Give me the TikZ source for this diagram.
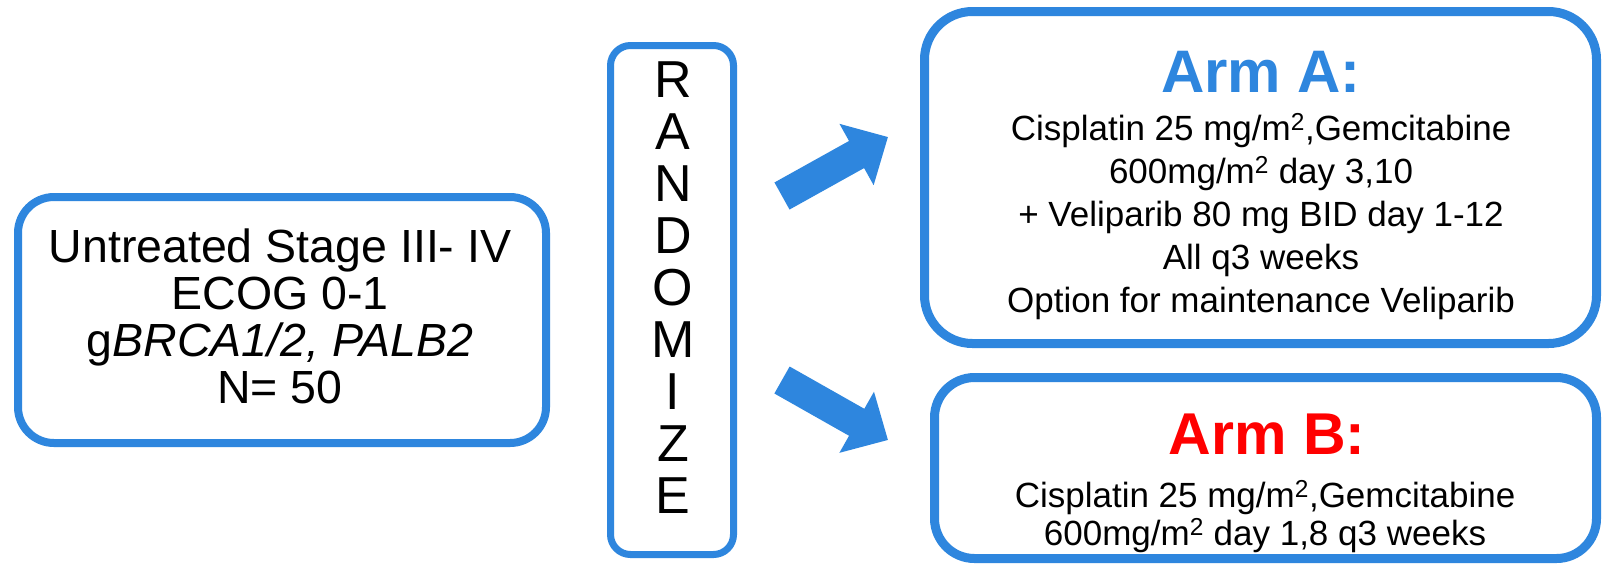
\documentclass[tikz,border=0pt]{standalone}
\usepackage{fontspec}
\setmainfont{Liberation Sans}
\usetikzlibrary{arrows.meta}
\definecolor{pblue}{RGB}{46,134,222}
\definecolor{pred}{RGB}{255,0,0}
\begin{document}
\begin{tikzpicture}[x=1pt,y=-1pt,
  box/.style={draw=pblue, fill=white, rounded corners=#1, inner sep=0pt},
  txt/.style={inner sep=0pt, align=center, text=black},
  bigarrow/.style={draw=pblue, line width=31pt, -{Triangle[width=68pt,length=36pt]}}
]
\useasboundingbox (0,0) rectangle (1602,566);
\fill[white] (0,0) rectangle (1602,566);

% boxes
\node[box=36, line width=8pt, minimum width=528pt, minimum height=246pt] (pop) at (282,320) {};
\node[box=20, line width=7pt, minimum width=123pt, minimum height=509pt] (rand) at (672,300) {};
\node[box=48, line width=9pt, minimum width=672pt, minimum height=332pt] (armA) at (1260.5,177.5) {};
\node[box=40, line width=9pt, minimum width=662pt, minimum height=181pt] (armB) at (1265.5,468) {};

% texts (anchor=base is the baseline of the last line)
\node[txt, font=\fontsize{46.5}{47}\selectfont, anchor=base] (poptxt) at (280,403)
  {Untreated Stage III- IV\\ECOG 0-1\\g\textit{BRCA1/2, PALB2}\\N= 50};
\node[txt, font=\fontsize{52}{52}\selectfont, anchor=base] (randtxt) at (673,513)
  {R\\A\\N\\D\\O\\M\\I\\Z\\E};
\node[txt, font=\fontsize{60}{60}\selectfont\bfseries, text=pblue, anchor=base] (armAtitle) at (1261,92) {Arm A:};
\node[txt, font=\fontsize{35}{43}\selectfont, anchor=base] (armAtxt) at (1261,312)
  {Cisplatin 25 mg/m\textsuperscript{2},Gemcitabine\\600mg/m\textsuperscript{2} day 3,10\\+ Veliparib 80 mg BID day 1-12\\All q3 weeks\\Option for maintenance Veliparib};
\node[txt, font=\fontsize{59}{59}\selectfont\bfseries, text=pred, anchor=base] (armBtitle) at (1267,454) {Arm B:};
\node[txt, font=\fontsize{35}{38}\selectfont, anchor=base] (armBtxt) at (1265,545)
  {Cisplatin 25 mg/m\textsuperscript{2},Gemcitabine\\600mg/m\textsuperscript{2} day 1,8 q3 weeks};

% arrows
\coordinate (a1s) at (782,196);
\coordinate (a1e) at (888,137);
\coordinate (a2s) at (782,380);
\coordinate (a2e) at (888,440);
\draw[bigarrow] (a1s) -- (a1e);
\draw[bigarrow] (a2s) -- (a2e);
\end{tikzpicture}
\end{document}
